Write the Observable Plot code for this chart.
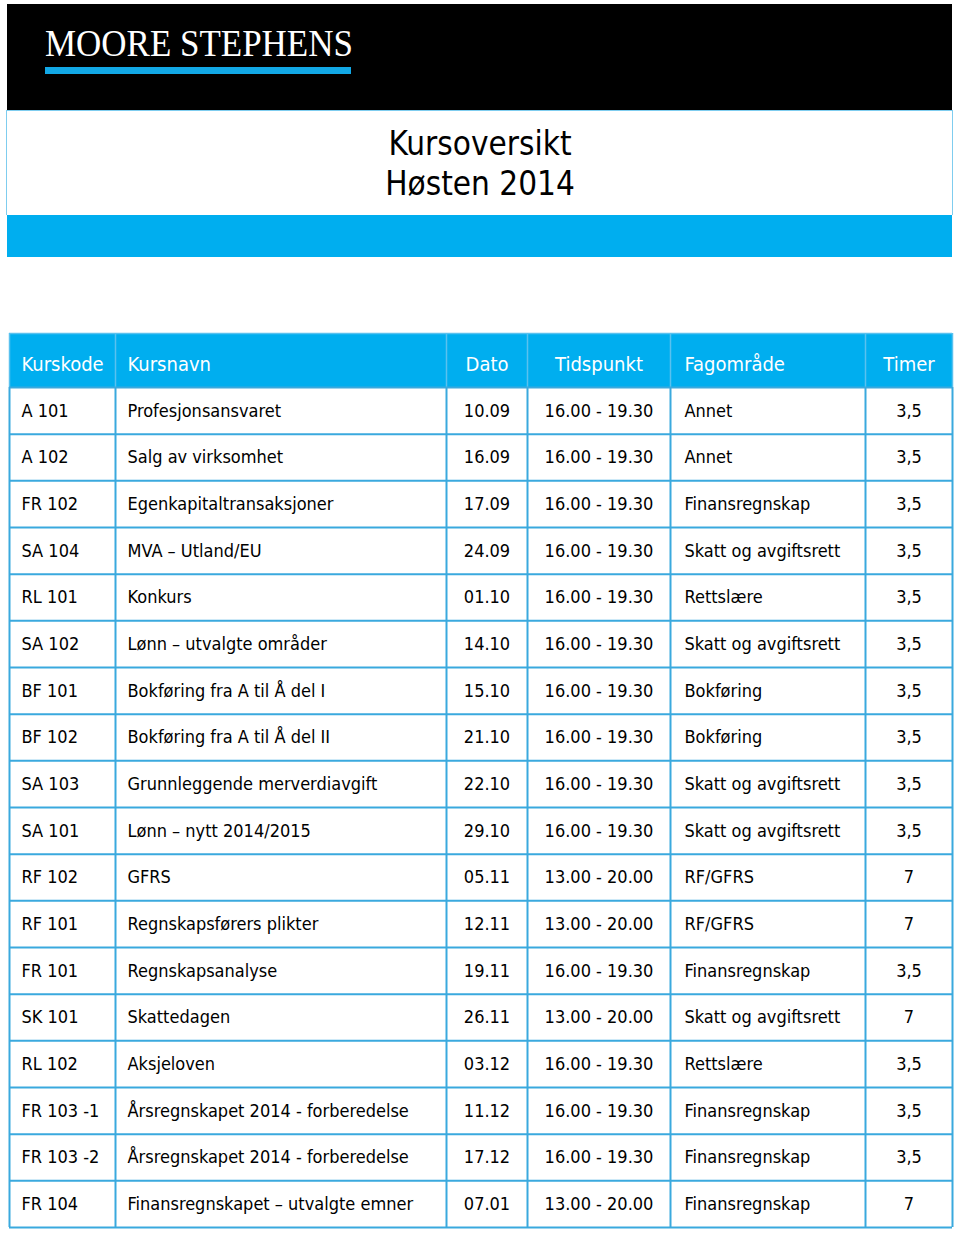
<!DOCTYPE html>
<html>
<head>
<meta charset="utf-8">
<script src="https://cdn.jsdelivr.net/npm/d3@7"></script>
<script src="https://cdn.jsdelivr.net/npm/@observablehq/plot@0.6"></script>
<style>
  html, body { margin: 0; padding: 0; background: #fff; }
  #page { position: relative; width: 960px; height: 1234px; overflow: hidden; }
  .abs { position: absolute; }
  #black { left: 7px; top: 4px; width: 945px; height: 106px; background: #000; }
  #logo { left: 45px; top: 23px; color: #fff; font-family: "Liberation Serif", "DejaVu Serif", serif;
          font-size: 38px; line-height: 40px; white-space: nowrap; transform: scaleX(0.92); transform-origin: left top; }
  #logobar { left: 45px; top: 67px; width: 306px; height: 7px; background: #12a8e6; }
  #titlebox { left: 6px; top: 110px; width: 945px; height: 104px; border: 1px solid #7fcdef; border-bottom: none; background: #fff; }
  #title { left: 0; top: 124px; width: 960px; text-align: center; font-family: "DejaVu Sans Condensed", "DejaVu Sans", sans-serif;
           font-stretch: condensed; font-size: 33px; line-height: 40px; color: #000; }
  #band { left: 7px; top: 215px; width: 945px; height: 42px; background: #00aeef; }
  #chart { left: 0; top: 330px; }
</style>
</head>
<body>
<div id="page">
  <div id="black" class="abs"></div>
  <div id="logo" class="abs">MOORE STEPHENS</div>
  <div id="logobar" class="abs"></div>
  <div id="titlebox" class="abs"></div>
  <div id="title" class="abs">Kursoversikt<br>Høsten 2014</div>
  <div id="band" class="abs"></div>
  <div id="chart" class="abs"></div>
</div>
<script>
// ---- data ----
const columns = ["Kurskode", "Kursnavn", "Dato", "Tidspunkt", "Fagområde", "Timer"];
const kurskode = ["A 101", "A 102", "FR 102", "SA 104", "RL 101", "SA 102", "BF 101", "BF 102", "SA 103",
  "SA 101", "RF 102", "RF 101", "FR 101", "SK 101", "RL 102", "FR 103 -1", "FR 103 -2", "FR 104"];
const kursnavn = ["Profesjonsansvaret", "Salg av virksomhet", "Egenkapitaltransaksjoner", "MVA \u2013 Utland/EU",
  "Konkurs", "Lønn \u2013 utvalgte områder", "Bokføring fra A til Å del I", "Bokføring fra A til Å del II",
  "Grunnleggende merverdiavgift", "Lønn \u2013 nytt 2014/2015", "GFRS", "Regnskapsførers plikter",
  "Regnskapsanalyse", "Skattedagen", "Aksjeloven", "Årsregnskapet 2014 - forberedelse",
  "Årsregnskapet 2014 - forberedelse", "Finansregnskapet \u2013 utvalgte emner"];
const dato = ["10.09", "16.09", "17.09", "24.09", "01.10", "14.10", "15.10", "21.10", "22.10", "29.10",
  "05.11", "12.11", "19.11", "26.11", "03.12", "11.12", "17.12", "07.01"];
const tidspunkt = ["16.00 - 19.30", "16.00 - 19.30", "16.00 - 19.30", "16.00 - 19.30", "16.00 - 19.30",
  "16.00 - 19.30", "16.00 - 19.30", "16.00 - 19.30", "16.00 - 19.30", "16.00 - 19.30", "13.00 - 20.00",
  "13.00 - 20.00", "16.00 - 19.30", "13.00 - 20.00", "16.00 - 19.30", "16.00 - 19.30", "16.00 - 19.30",
  "13.00 - 20.00"];
const fagomrade = ["Annet", "Annet", "Finansregnskap", "Skatt og avgiftsrett", "Rettslære", "Skatt og avgiftsrett",
  "Bokføring", "Bokføring", "Skatt og avgiftsrett", "Skatt og avgiftsrett", "RF/GFRS", "RF/GFRS",
  "Finansregnskap", "Skatt og avgiftsrett", "Rettslære", "Finansregnskap", "Finansregnskap", "Finansregnskap"];
const timer = [3.5, 3.5, 3.5, 3.5, 3.5, 3.5, 3.5, 3.5, 3.5, 3.5, 7, 7, 3.5, 7, 3.5, 3.5, 3.5, 7];

// ---- layout (not data) ----
const colWidths = [106, 331, 81, 143, 195, 87];
const colAlign = ["start", "start", "middle", "middle", "start", "middle"];
const tableLeft = 9;
const pad = 12;
const headerUnits = 54 / 46.67;
const blue = "#00aeef";
const lineBlue = "#3aa9de";
const headerLine = "#59c1ef";

const edges = [tableLeft];
colWidths.forEach(w => edges.push(edges[edges.length - 1] + w));
const tableRight = edges[edges.length - 1];
const anchorX = colAlign.map((a, i) => a === "start" ? edges[i] + pad + (i === 4 ? 2 : 0) : (edges[i] + edges[i + 1]) / 2);

const rows = kurskode.map((k, i) => ({
  i, values: [k, kursnavn[i], dato[i], tidspunkt[i], fagomrade[i], String(timer[i]).replace(".", ",")]
}));
const nRows = rows.length;
const cells = rows.flatMap(r => r.values.map((v, c) => ({row: r.i, col: c, text: v})));
const headers = columns.map((name, c) => ({col: c, name}));

const fontFam = '"DejaVu Sans Condensed", "DejaVu Sans", sans-serif';

const chart = Plot.plot({
  width: 960,
  height: 904,
  margin: 0,
  x: {type: "linear", domain: [0, 960], range: [0, 960], axis: null},
  y: {type: "linear", domain: [-headerUnits, nRows], range: [3, 897], axis: null},
  style: {fontFamily: fontFam, background: "transparent", overflow: "visible"},
  marks: [
    // header background
    Plot.rect([0], {x1: tableLeft, x2: tableRight, y1: -headerUnits, y2: 0, fill: blue}),
    // header dividers
    Plot.ruleX(edges, {y1: -headerUnits, y2: 0, stroke: headerLine, strokeWidth: 1.5}),
    Plot.ruleY([-headerUnits], {x1: tableLeft, x2: tableRight, stroke: headerLine, strokeWidth: 1.5}),
    // body grid
    Plot.ruleY(d3.range(nRows + 1), {x1: tableLeft, x2: tableRight, stroke: lineBlue, strokeWidth: 2}),
    Plot.ruleX(edges, {y1: 0, y2: nRows, stroke: lineBlue, strokeWidth: 2}),
    // header labels
    Plot.text(headers, {
      x: d => anchorX[d.col], y: -0.5, text: "name",
      fill: "#fff", fontSize: 20
    }),
    // cell text
    Plot.text(cells, {
      x: d => anchorX[d.col], y: d => d.row + 0.5, text: "text",
      fill: "#000", fontSize: 18
    })
  ]
});
// per-column text anchor applied after rendering
d3.select(chart).selectAll("g[aria-label='text']").each(function(_, gi) {
  const data = gi === 0 ? headers : cells;
  d3.select(this).attr("text-anchor", null)
    .selectAll("text").attr("text-anchor", (d, j) => colAlign[data[d !== undefined ? d : j].col]);
});
document.getElementById("chart").appendChild(chart);
</script>
</body>
</html>
